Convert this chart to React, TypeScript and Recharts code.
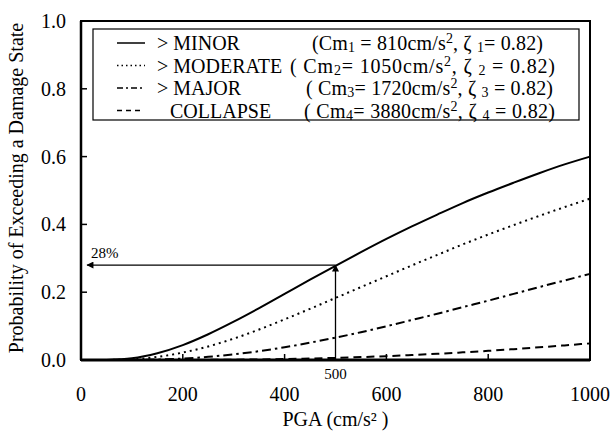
import { LineChart, Line, XAxis, YAxis, ReferenceArea, ReferenceLine } from "recharts";

// PGA values (cm/s^2) the curves were read at
const pga = [50, 100, 150, 200, 250, 300, 350, 400, 450, 500, 550, 600, 650, 700, 750, 800, 850, 900, 950, 1000];

// probability of exceeding each damage state
const minor = [0.0003, 0.005, 0.02, 0.044, 0.076, 0.113, 0.153, 0.195, 0.237, 0.278, 0.318, 0.357, 0.394, 0.429, 0.463, 0.494, 0.523, 0.551, 0.577, 0.6];
const moderate = [0.0001, 0.002, 0.009, 0.022, 0.04, 0.063, 0.09, 0.12, 0.151, 0.183, 0.215, 0.247, 0.279, 0.31, 0.341, 0.37, 0.398, 0.425, 0.451, 0.476];
const major = [0, 0.0003, 0.0015, 0.0043, 0.0093, 0.0166, 0.026, 0.0376, 0.051, 0.066, 0.082, 0.0996, 0.118, 0.1365, 0.156, 0.175, 0.195, 0.215, 0.2346, 0.254];
const collapse = [0, 0, 0, 0.0001, 0.0004, 0.0009, 0.0017, 0.0028, 0.0043, 0.0062, 0.0086, 0.0114, 0.0147, 0.0184, 0.0225, 0.027, 0.032, 0.0374, 0.0431, 0.049];

const xTicks = [0, 200, 400, 600, 800, 1000];
const yTicks = [0, 0.2, 0.4, 0.6, 0.8, 1.0];

// legend labels
const stateNames = ["> MINOR", "> MODERATE", "> MAJOR", "COLLAPSE"];
const medians = [810, 1050, 1720, 3880];
const zetas = ["0.82", "0.82", "0.82", "0.82"];

// annotation: 28% at 500 cm/s^2
const markPga = 500;
const markProb = 0.28;

const rows = pga.map((x, i) => ({
  pga: x,
  minor: minor[i],
  moderate: moderate[i],
  major: major[i],
  collapse: collapse[i],
}));

const FONT = "Liberation Serif, DejaVu Serif, serif";
const txt = { fontFamily: FONT };

const dashes = ["", "2 4", "9 4 2.5 4", "8 5"];
const keys = ["minor", "moderate", "major", "collapse"];

const XTick = (props: any) => {
  const { x, y, payload } = props;
  const v = payload.value;
  const inner = v !== 0 && v !== 1000;
  return (
    <g>
      {inner && <line x1={x} x2={x} y1={y} y2={y - 6} stroke="#000" strokeWidth={1.5} />}
      <text x={x} y={y + 41} textAnchor="middle" fontSize={20} style={txt} fill="#000">
        {v}
      </text>
    </g>
  );
};

const YTick = (props: any) => {
  const { x, y, payload } = props;
  const v = payload.value;
  const inner = v !== 0 && v !== 1;
  return (
    <g>
      {inner && <line x1={x} x2={x + 6} y1={y} y2={y} stroke="#000" strokeWidth={1.5} />}
      <text x={x - 15} y={y + 7} textAnchor="end" fontSize={20} style={txt} fill="#000">
        {v.toFixed(1)}
      </text>
    </g>
  );
};

const HArrow = (p: any) => (
  <g>
    <line x1={p.x1} y1={p.y1} x2={p.x2} y2={p.y2} stroke="#000" strokeWidth={1.3} markerEnd="url(#arrowHead)" />
    <text x={p.x2 + 4} y={p.y1 - 7} fontSize={15} style={txt} fill="#000">
      28%
    </text>
  </g>
);

const VArrow = (p: any) => (
  <g>
    <line x1={p.x1} y1={p.y1} x2={p.x2} y2={p.y2} stroke="#000" strokeWidth={1.3} markerEnd="url(#arrowHead)" />
    <text x={p.x1} y={p.y1 + 19} textAnchor="middle" fontSize={15} style={txt} fill="#000">
      {markPga}
    </text>
  </g>
);

const rowY = [43, 65.5, 88, 110.5];
const rowStart = [312, 290, 306, 304];
const rowEnd = [543, 555, 553, 555];

const Overlay = () => (
  <svg width={614} height={432} style={{ position: "absolute", left: 0, top: 0, pointerEvents: "none" }}>
    <text transform="translate(23,188) rotate(-90)" textAnchor="middle" fontSize={20} style={txt} fill="#000">
      Probability of Exceeding a Damage State
    </text>
    <rect x={93} y={29} width={486} height={91} fill="#fff" stroke="#000" strokeWidth={1.2} />
    {stateNames.map((name, i) => {
      const cy = rowY[i];
      return (
        <g key={name} fill="#000">
          <line x1={117} x2={i === 3 ? 140 : 145} y1={cy} y2={cy} stroke="#000" strokeWidth={1.5} strokeDasharray={i === 1 ? "1.5 3" : i === 2 ? "6 3 2 3" : i === 3 ? "5 4" : undefined} />
          <text x={i === 3 ? 170 : 157} y={cy + 7} fontSize={20} style={txt}>
            {name}
          </text>
          <text x={rowStart[i]} y={cy + 7} fontSize={20} style={txt} textLength={rowEnd[i] - rowStart[i]} lengthAdjust="spacing">
            {i === 0 ? "(" : "( "}Cm
            <tspan fontSize={14} dy={2}>{i + 1}</tspan>
            <tspan dy={-2}>{i === 0 ? " = " : "= "}{medians[i]}cm/s</tspan>
            <tspan fontSize={14} dy={-7}>2</tspan>
            <tspan dy={7}>{",  ζ "}</tspan>
            <tspan fontSize={14} dy={2}>{i + 1}</tspan>
            <tspan dy={-2}>{i === 0 ? "= " : " = "}{zetas[i]})</tspan>
          </text>
        </g>
      );
    })}
  </svg>
);

export default function App() {
  return (
    <div style={{ position: "absolute", left: 0, top: 0, width: 614, height: 432, background: "#fff", fontFamily: FONT }}>
      <svg width={0} height={0} style={{ position: "absolute" }}>
        <defs>
          <marker id="arrowHead" viewBox="0 0 10 10" refX="9" refY="5" markerWidth="10" markerHeight="7" markerUnits="userSpaceOnUse" orient="auto">
            <path d="M0,0 L10,5 L0,10 z" fill="#000" />
          </marker>
        </defs>
      </svg>
      <LineChart width={614} height={432} data={rows} margin={{ top: 21, right: 24, left: 21, bottom: 42 }}>
        <XAxis
          type="number"
          dataKey="pga"
          domain={[0, 1000]}
          ticks={xTicks}
          interval={0}
          height={30}
          tickSize={0}
          tickMargin={0}
          tickLine={false}
          axisLine={{ stroke: "#000", strokeWidth: 3 }}
          tick={<XTick />}
          label={{ value: "PGA (cm/s² )", position: "insideBottom", offset: -36, fontSize: 20, style: txt, fill: "#000" }}
        />
        <YAxis
          type="number"
          domain={[0, 1]}
          ticks={yTicks}
          interval={0}
          width={60}
          tickSize={0}
          tickMargin={0}
          tickLine={false}
          axisLine={{ stroke: "#000", strokeWidth: 2.5 }}
          tick={<YTick />}
        />
        <ReferenceArea x1={0} x2={1000} y1={0} y2={1} fill="none" stroke="#000" strokeWidth={2} />
        {keys.map((k, i) => (
          <Line
            key={k}
            type="monotone"
            dataKey={k}
            stroke="#000"
            strokeWidth={2}
            strokeDasharray={dashes[i] || undefined}
            dot={false}
            isAnimationActive={false}
          />
        ))}
        <ReferenceLine segment={[{ x: markPga, y: markProb }, { x: 12, y: markProb }]} shape={HArrow} />
        <ReferenceLine segment={[{ x: markPga, y: 0 }, { x: markPga, y: markProb }]} shape={VArrow} />
      </LineChart>
      <Overlay />
    </div>
  );
}
